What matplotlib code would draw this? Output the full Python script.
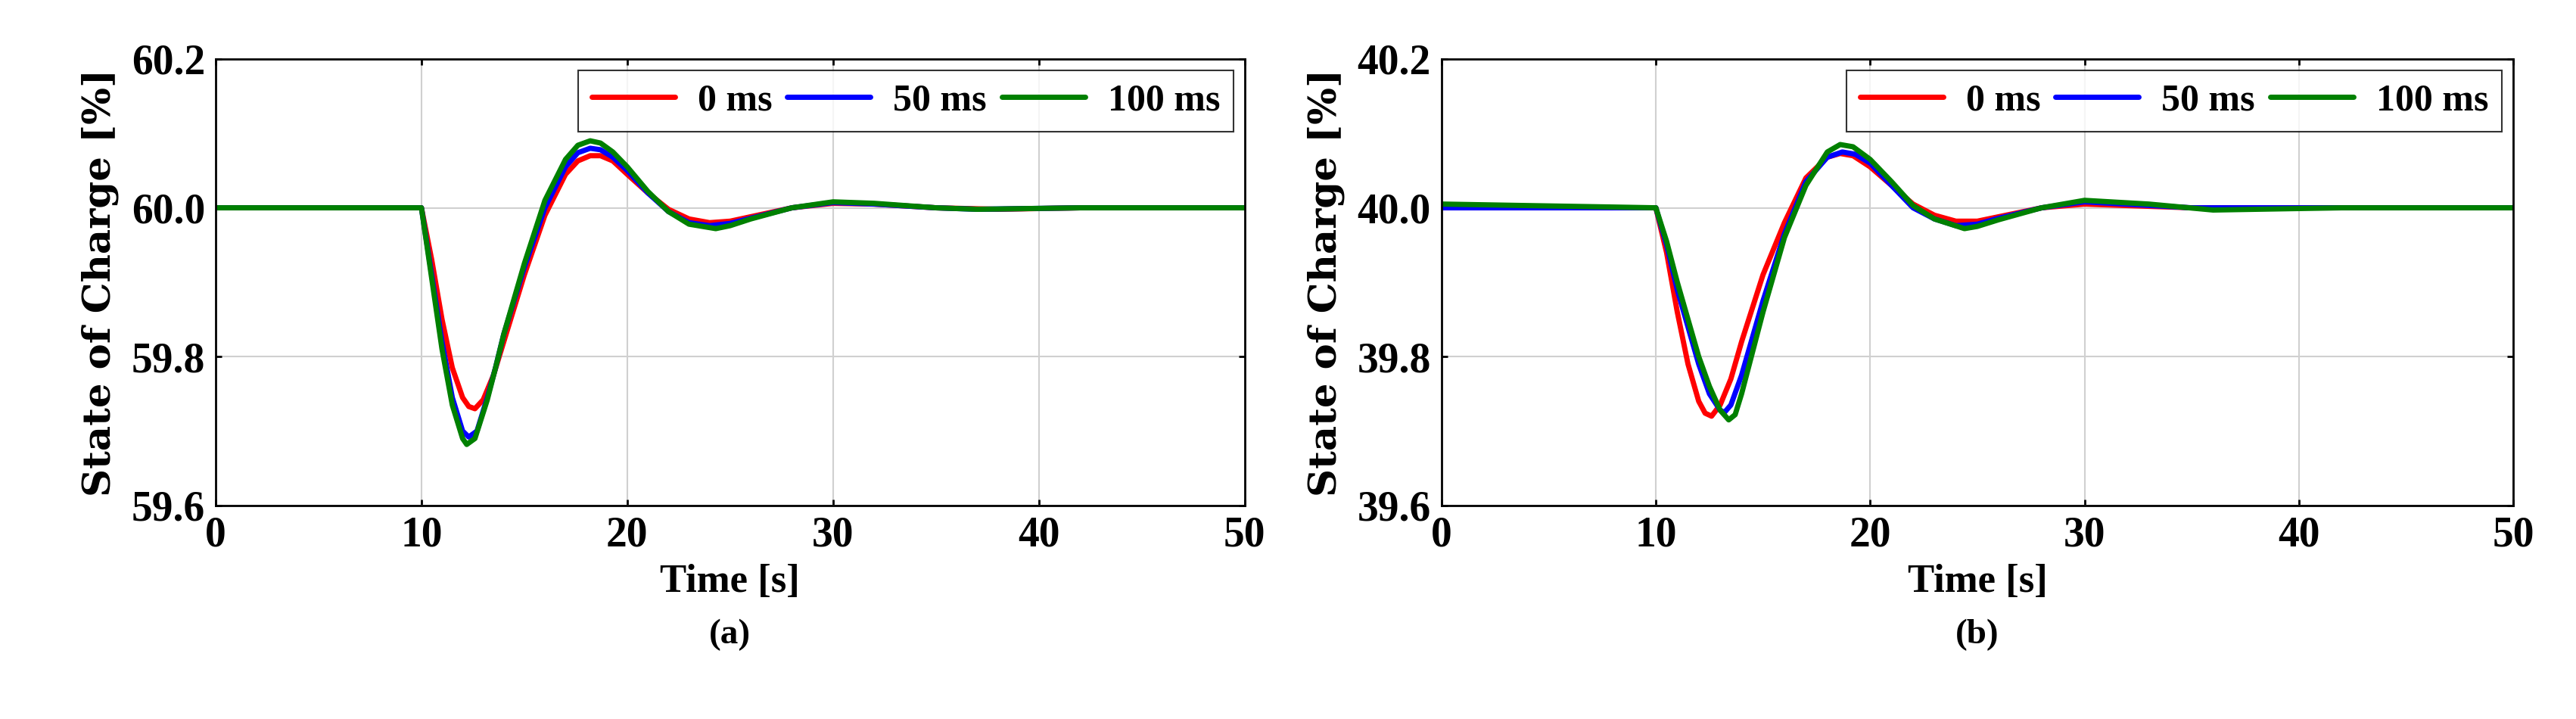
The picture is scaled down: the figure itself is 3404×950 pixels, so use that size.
import matplotlib
matplotlib.use("Agg")
import matplotlib.pyplot as plt
import numpy as np

# (a)
a_t0 = [0,10,10.5,11,11.5,12,12.3,12.6,13,13.5,14,15,16,17,17.6,18.2,18.7,19.3,20,21,22,23,24,25,26,28,30,32,35,38,42,50]
a_v0 = [60.0,60.0,59.93,59.85,59.785,59.745,59.733,59.73,59.742,59.775,59.82,59.91,59.99,60.045,60.063,60.07,60.07,60.063,60.045,60.02,59.998,59.985,59.98,59.982,59.988,60.0,60.006,60.005,60.0,59.998,60.0,60.0]
a_t1 = [0,10,10.5,11,11.5,12,12.3,12.7,13.2,13.6,14,15,16,17,17.6,18.2,18.7,19.3,20,21,22,23,24,25,26,28,30,32,35,37,42,50]
a_v1 = [60.0,60.0,59.91,59.82,59.745,59.70,59.692,59.70,59.745,59.785,59.83,59.92,60.0,60.055,60.074,60.08,60.078,60.068,60.05,60.02,59.995,59.98,59.976,59.979,59.986,60.0,60.007,60.005,60.0,59.998,60.0,60.0]
a_t2 = [0,10,10.5,11,11.5,12,12.2,12.6,13.2,13.6,14,15,16,17,17.6,18.2,18.7,19.3,20,21,22,23,24.3,25,26,28,30,32,35,37,42,50]
a_v2 = [60.0,60.0,59.905,59.81,59.735,59.69,59.682,59.69,59.742,59.785,59.83,59.925,60.01,60.065,60.084,60.09,60.087,60.075,60.055,60.022,59.995,59.978,59.972,59.976,59.985,60.0,60.008,60.006,60.0,59.998,60.0,60.0]
# (b)
b_t0 = [0,10,10.5,11,11.5,12,12.3,12.6,13,13.5,14,15,16,17,18,18.6,19.2,20,21,22,23,24,25,26,28,30,35,50]
b_v0 = [40.0,40.0,39.94,39.86,39.79,39.74,39.724,39.72,39.735,39.77,39.82,39.91,39.98,40.04,40.068,40.073,40.07,40.055,40.03,40.005,39.99,39.982,39.982,39.988,40.0,40.005,40.0,40.0]
b_t1 = [0,10,10.5,11,11.5,12,12.5,13,13.2,13.5,14,15,16,17,18,18.7,19.3,20,21,22,23,24,25,26,28,30,35,50]
b_v1 = [40.0,40.0,39.95,39.89,39.84,39.79,39.75,39.728,39.725,39.735,39.775,39.875,39.965,40.035,40.068,40.075,40.072,40.06,40.03,40.0,39.985,39.976,39.978,39.986,40.0,40.008,40.0,40.0]
b_t2 = [0,10,10.5,11,11.5,12,12.5,13,13.4,13.7,14,15,16,17,18,18.6,19.2,20,21,22,23,24.4,25,26,28,30,33,36,42,50]
b_v2 = [40.005,40.0,39.955,39.9,39.85,39.8,39.76,39.728,39.715,39.722,39.75,39.86,39.96,40.03,40.075,40.085,40.082,40.065,40.035,40.003,39.985,39.972,39.975,39.984,40.0,40.01,40.005,39.997,40.0,40.0]

labels = ["0 ms", "50 ms", "100 ms"]
colors = ["#ff0000", "#0000ff", "#008000"]

fig = plt.figure(figsize=(34.04, 9.5), dpi=100)
serif = ["Liberation Serif", "DejaVu Serif"]
wide = ["DejaVu Serif"]
panels = [
    ([0.0837, 0.297, 0.3995, 0.621], [(a_t0,a_v0),(a_t1,a_v1),(a_t2,a_v2)], (59.6, 60.2), "(a)"),
    ([0.5596, 0.297, 0.416, 0.621], [(b_t0,b_v0),(b_t1,b_v1),(b_t2,b_v2)], (39.6, 40.2), "(b)"),
]
for rect, series, ylim, tag in panels:
    ax = fig.add_axes(rect)
    for (t, v), lab, c in zip(series, labels, colors):
        ax.plot(t, v, color=c, lw=5, label=lab, solid_joinstyle="round", solid_capstyle="round")
    ax.set_xlim(0, 50)
    ax.set_ylim(*ylim)
    ax.set_xticks(np.arange(0, 51, 10))
    yt = np.arange(ylim[0], ylim[1] + 0.01, 0.2)
    ax.set_yticks(yt)
    ax.set_yticklabels([f"{y:.1f}" for y in yt])
    ax.grid(True, color="#d0d0d0", lw=1.5)
    ax.tick_params(labelsize=40, direction="in", length=6, width=2, top=True, right=True, pad=10)
    for lbl in ax.get_xticklabels() + ax.get_yticklabels():
        lbl.set_family(serif); lbl.set_fontweight("bold")
    for s in ax.spines.values():
        s.set_linewidth(2)
    ax.set_ylabel("State of Charge [%]", fontsize=37, fontweight="bold", family=wide, labelpad=12)
    ax.set_xlabel("Time [s]", fontsize=38, fontweight="bold", family=serif, labelpad=8)
    ax.text(0.5, -0.29, tag, transform=ax.transAxes, ha="center", va="center",
            fontsize=34, fontweight="bold", family=serif)
    leg = ax.legend(loc="upper right", ncol=3, frameon=True, fancybox=False,
                    edgecolor="black", handlelength=2.2, columnspacing=0.4, handletextpad=0.6,
                    borderaxespad=0.3, borderpad=0.35,
                    prop={"family": serif, "weight": "bold", "size": 36})
    leg.get_frame().set_linewidth(1.5)

fig.savefig("out.png", dpi=100)
